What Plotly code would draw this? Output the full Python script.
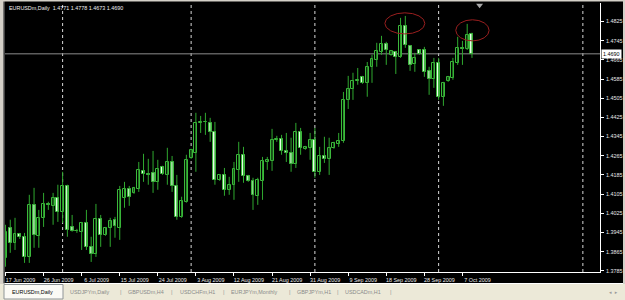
import plotly.graph_objects as go

# ---- data (EURUSDm, Daily) ----
opens = [1.3839,1.3964,1.3902,1.3939,1.3927,1.3843,1.4060,1.3931,1.4006,1.4064,
         1.4056,1.4089,1.4031,1.4139,1.3968,1.3952,1.3948,1.3985,1.3885,1.3856,
         1.4002,1.3935,1.3964,1.3998,1.3964,1.4089,1.4127,1.4110,1.4127,1.4202,
         1.4189,1.4194,1.4156,1.4219,1.4185,1.4239,1.4139,1.4010,1.4073,1.4256,
         1.4277,1.4402,1.4406,1.4402,1.4365,1.4164,1.4185,1.4123,1.4144,1.4206,
         1.4269,1.4181,1.4160,1.4098,1.4160,1.4239,1.4244,1.4331,1.4335,1.4285,
         1.4277,1.4231,1.4365,1.4294,1.4298,1.4331,1.4198,1.4264,1.4252,1.4298,
         1.4315,1.4327,1.4498,1.4544,1.4577,1.4594,1.4569,1.4636,1.4665,1.4698,
         1.4732,1.4686,1.4698,1.4677,1.4807,1.4723,1.4648,1.4706,1.4706,1.4619,
         1.4586,1.4652,1.4511,1.4577,1.4590,1.4652,1.4715,1.4711,1.4771]
highs = [1.3977,1.3998,1.4006,1.3943,1.3943,1.4102,1.4131,1.4039,1.4110,1.4073,
         1.4110,1.4144,1.4198,1.4144,1.4018,1.3960,1.3989,1.4039,1.3927,1.4064,
         1.4018,1.3968,1.4006,1.4010,1.4139,1.4156,1.4139,1.4135,1.4239,1.4273,
         1.4252,1.4285,1.4248,1.4223,1.4298,1.4264,1.4185,1.4094,1.4269,1.4294,
         1.4444,1.4431,1.4444,1.4423,1.4406,1.4189,1.4214,1.4177,1.4239,1.4323,
         1.4302,1.4185,1.4173,1.4173,1.4260,1.4260,1.4377,1.4348,1.4352,1.4360,
         1.4340,1.4402,1.4381,1.4306,1.4360,1.4381,1.4302,1.4344,1.4340,1.4323,
         1.4360,1.4531,1.4598,1.4611,1.4631,1.4598,1.4656,1.4686,1.4736,1.4765,
         1.4740,1.4706,1.4702,1.4840,1.4848,1.4727,1.4694,1.4710,1.4719,1.4636,
         1.4673,1.4673,1.4573,1.4598,1.4673,1.4761,1.4744,1.4815,1.4778]
lows = [1.3802,1.3860,1.3872,1.3918,1.3818,1.3818,1.3881,1.3881,1.3968,1.4039,
        1.3977,1.3989,1.3985,1.3927,1.3948,1.3943,1.3872,1.3872,1.3822,1.3843,
        1.3885,1.3931,1.3885,1.3923,1.3914,1.4048,1.4056,1.4106,1.4114,1.4156,
        1.4144,1.4110,1.4123,1.4185,1.4144,1.4114,1.3998,1.4006,1.4069,1.4252,
        1.4198,1.4360,1.4352,1.4323,1.4144,1.4160,1.4098,1.4102,1.4081,1.4156,
        1.4152,1.4156,1.4039,1.4060,1.4081,1.4206,1.4202,1.4323,1.4269,1.4239,
        1.4198,1.4214,1.4269,1.4290,1.4248,1.4173,1.4185,1.4235,1.4185,1.4294,
        1.4302,1.4319,1.4460,1.4498,1.4561,1.4565,1.4511,1.4569,1.4636,1.4686,
        1.4644,1.4682,1.4606,1.4673,1.4715,1.4619,1.4615,1.4686,1.4594,1.4519,
        1.4548,1.4498,1.4473,1.4573,1.4582,1.4644,1.4644,1.4706,1.4673]
closes = [1.3948,1.3902,1.3939,1.3927,1.3843,1.4060,1.3935,1.4006,1.4064,1.4060,
          1.4089,1.4031,1.4139,1.3956,1.3952,1.3950,1.3985,1.3885,1.3856,1.4002,
          1.3935,1.3964,1.3993,1.3973,1.4123,1.4127,1.4094,1.4131,1.4206,1.4189,
          1.4185,1.4156,1.4210,1.4189,1.4239,1.4139,1.4010,1.4077,1.4248,1.4289,
          1.4402,1.4406,1.4404,1.4365,1.4164,1.4185,1.4123,1.4144,1.4210,1.4269,
          1.4181,1.4160,1.4102,1.4164,1.4244,1.4248,1.4331,1.4335,1.4285,1.4277,
          1.4231,1.4365,1.4298,1.4302,1.4331,1.4198,1.4264,1.4252,1.4298,1.4319,
          1.4327,1.4498,1.4544,1.4577,1.4579,1.4569,1.4636,1.4669,1.4702,1.4732,
          1.4706,1.4702,1.4677,1.4807,1.4727,1.4644,1.4673,1.4690,1.4615,1.4586,
          1.4652,1.4511,1.4569,1.4594,1.4656,1.4715,1.4711,1.4769,1.4690]

date_tick_bars = [0, 8, 16, 24, 32, 40, 48, 56, 64, 72, 80, 88, 96]
date_tick_labels = ["17 Jun 2009", "26 Jun 2009", "6 Jul 2009", "15 Jul 2009",
                    "24 Jul 2009", "3 Aug 2009", "12 Aug 2009", "21 Aug 2009",
                    "31 Aug 2009", "9 Sep 2009", "18 Sep 2009", "28 Sep 2009",
                    "7 Oct 2009"]
month_separator_bars = [12, 39, 65, 91, 121.3]
price_ticks = [1.4825, 1.4745, 1.4665, 1.4585, 1.4505, 1.4425, 1.4345, 1.4265,
               1.4185, 1.4105, 1.4025, 1.3945, 1.3865, 1.3785]
tab_labels = ["EURUSDm,Daily", "USDJPYm,Daily", "GBPUSDm,H4", "USDCHFm,H1",
              "EURJPYm,Monthly", "GBPJPYm,H1", "USDCADm,H1"]
symbol_title = "EURUSDm,Daily"

# ---- styling ----
W, H = 625, 300
L, R, T, B = 5, 600, 3, 272
GREEN = "#3cb83c"
WICK = "#2fa82f"
BEAR_FILL = "#e8ffe8"
BULL_FILL = "#000000"
FONT = "Liberation Sans"
FS = 5.4

def pxx(p):
    return (p - L) / (R - L)

def pxy(p):
    return (B - p) / (B - T)

n = len(opens)
idx = list(range(n))

wx, wy = [], []
for i in idx:
    wx += [i, i, None]
    wy += [lows[i], highs[i], None]

bases = [min(o, c) for o, c in zip(opens, closes)]
heights = [max(abs(c - o), 0.00004) for o, c in zip(opens, closes)]
fills = [BULL_FILL if c > o else BEAR_FILL for o, c in zip(opens, closes)]

fig = go.Figure()
fig.add_trace(go.Scatter(x=wx, y=wy, mode="lines", line=dict(color=WICK, width=1),
                         hoverinfo="skip", showlegend=False))
fig.add_trace(go.Bar(x=idx, y=heights, base=bases, width=0.62,
                     marker=dict(color=fills, line=dict(color=GREEN, width=1)),
                     showlegend=False))
# chart-shift marker
fig.add_trace(go.Scatter(x=[99.6], y=[1.4893], mode="markers",
                         marker=dict(symbol="triangle-down", size=6, color="#a8a8a8"),
                         cliponaxis=False, showlegend=False, hoverinfo="skip"))

shapes = []
for b in month_separator_bars:
    shapes.append(dict(type="line", xref="x", yref="paper", x0=b, x1=b, y0=0, y1=1,
                       line=dict(color="#d8d8d8", width=1, dash="dot"), layer="below"))
shapes.append(dict(type="line", xref="paper", yref="y", x0=0, x1=1,
                   y0=closes[-1], y1=closes[-1],
                   line=dict(color="#8c8c8c", width=1), layer="below"))
# red ellipses (drawings)
shapes.append(dict(type="circle", xref="x", yref="y", x0=79.7, x1=88.1,
                   y0=1.4773, y1=1.4861, line=dict(color="#9a1f1f", width=1)))
shapes.append(dict(type="circle", xref="x", yref="y", x0=94.6, x1=101.6,
                   y0=1.4744, y1=1.4832, line=dict(color="#9a1f1f", width=1)))
# window frame
shapes.append(dict(type="rect", xref="paper", yref="paper", x0=pxx(0), x1=pxx(W),
                   y0=pxy(H), y1=pxy(283.5), fillcolor="#ece9d8", line=dict(width=0)))
shapes.append(dict(type="line", xref="paper", yref="paper", x0=pxx(0), x1=pxx(W),
                   y0=pxy(283.5), y1=pxy(283.5), line=dict(color="#ffffff", width=1)))
shapes.append(dict(type="rect", xref="paper", yref="paper", x0=pxx(4), x1=pxx(63),
                   y0=pxy(299), y1=pxy(284.5), fillcolor="#fbfaf5",
                   line=dict(color="#8f9597", width=1)))
shapes.append(dict(type="rect", xref="paper", yref="paper", x0=pxx(0), x1=pxx(3.5),
                   y0=pxy(284), y1=pxy(0), fillcolor="#d4d0c8", line=dict(width=0)))
shapes.append(dict(type="line", xref="paper", yref="paper", x0=pxx(4), x1=pxx(4),
                   y0=pxy(284), y1=pxy(1), line=dict(color="#808080", width=1)))
shapes.append(dict(type="rect", xref="paper", yref="paper", x0=pxx(0), x1=pxx(W),
                   y0=pxy(1.5), y1=pxy(0), fillcolor="#d4d0c8", line=dict(width=0)))
shapes.append(dict(type="rect", xref="paper", yref="paper", x0=pxx(623), x1=pxx(W),
                   y0=pxy(284), y1=pxy(0), fillcolor="#d4d0c8", line=dict(width=0)))

annotations = []
annotations.append(dict(xref="paper", yref="paper", x=pxx(7), y=pxy(8), xanchor="left",
                        yanchor="middle", showarrow=False,
                        text=f"{symbol_title}  {opens[-1]:.4f} {highs[-1]:.4f} "
                             f"{lows[-1]:.4f} {closes[-1]:.4f}",
                        font=dict(family=FONT, size=FS, color="#f0f0f0")))
annotations.append(dict(xref="paper", yref="y", x=pxx(601), y=closes[-1],
                        xanchor="left", yanchor="middle", showarrow=False,
                        text=f"{closes[-1]:.4f}", bgcolor="#ffffff", borderpad=1,
                        font=dict(family=FONT, size=FS, color="#000000")))
tab_x = [10, 68, 126, 178, 229, 295, 343]
for k, (lab, tx) in enumerate(zip(tab_labels, tab_x)):
    annotations.append(dict(xref="paper", yref="paper", x=pxx(tx), y=pxy(292),
                            xanchor="left", yanchor="middle", showarrow=False, text=lab,
                            font=dict(family=FONT, size=FS,
                                      color="#000000" if k == 0 else "#8a8a8a")))
for sx in [121, 172, 224, 290, 338, 391]:
    annotations.append(dict(xref="paper", yref="paper", x=pxx(sx), y=pxy(292),
                            xanchor="center", yanchor="middle", showarrow=False, text="|",
                            font=dict(family=FONT, size=6, color="#9a9a9a")))
annotations.append(dict(xref="paper", yref="paper", x=pxx(613), y=pxy(292),
                        xanchor="center", yanchor="middle", showarrow=False,
                        text="◂  ▸", font=dict(family="DejaVu Sans", size=5, color="#9a9a9a")))

fig.update_layout(
    width=W, height=H,
    margin=dict(l=L, r=W - R, t=T, b=H - B, pad=0),
    paper_bgcolor="#000000", plot_bgcolor="#000000",
    showlegend=False, bargap=0,
    shapes=shapes, annotations=annotations,
    xaxis=dict(range=[-0.105, 124.9], tickmode="array", tickvals=date_tick_bars,
               ticktext=date_tick_labels, ticks="outside", ticklen=3,
               tickcolor="#ffffff", tickwidth=1, ticklabelshift=15,
               ticklabelstandoff=0,
               tickfont=dict(family=FONT, size=FS, color="#e8e8e8"),
               showline=True, linecolor="#ffffff", linewidth=1,
               showgrid=False, zeroline=False, fixedrange=True),
    yaxis=dict(range=[1.3780, 1.4902], side="right", tickmode="array",
               tickvals=price_ticks, ticktext=[f"{p:.4f}" for p in price_ticks],
               ticks="outside", ticklen=3, tickcolor="#ffffff", tickwidth=1,
               ticklabelstandoff=1,
               tickfont=dict(family=FONT, size=FS, color="#e8e8e8"),
               showline=True, linecolor="#ffffff", linewidth=1,
               showgrid=False, zeroline=False, fixedrange=True),
)

fig.write_html("out.html")
